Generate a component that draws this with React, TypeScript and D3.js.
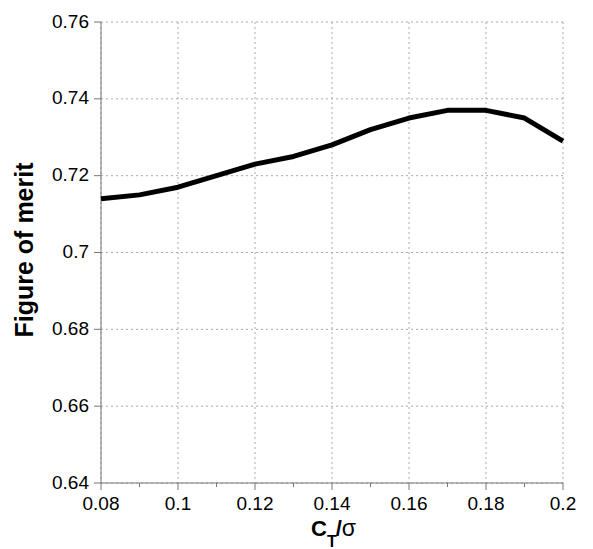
import React from "react";
import * as d3 from "d3";

const xValues = [0.08, 0.09, 0.1, 0.11, 0.12, 0.13, 0.14, 0.15, 0.16, 0.17, 0.18, 0.19, 0.2];
const yValues = [0.714, 0.715, 0.717, 0.72, 0.723, 0.725, 0.728, 0.732, 0.735, 0.737, 0.737, 0.735, 0.729];
const xTicks = [0.08, 0.1, 0.12, 0.14, 0.16, 0.18, 0.2];
const xMinorTicks = [0.09, 0.11, 0.13, 0.15, 0.17, 0.19];
const yTicks = [0.64, 0.66, 0.68, 0.7, 0.72, 0.74, 0.76];
const xTickLabels = ["0.08", "0.1", "0.12", "0.14", "0.16", "0.18", "0.2"];
const yTickLabels = ["0.64", "0.66", "0.68", "0.7", "0.72", "0.74", "0.76"];

export default function App() {
  const W = 593, H = 549;
  const left = 101, right = 563, top = 22, bottom = 483;
  const x = d3.scaleLinear().domain([0.08, 0.2]).range([left, right]);
  const y = d3.scaleLinear().domain([0.64, 0.76]).range([bottom, top]);
  const line = d3.line<number>().x((_, i) => x(xValues[i])).y((d) => y(d));
  const font = "'Liberation Sans', Arial, Helvetica, sans-serif";
  return (
    <svg width={W} height={H} style={{ position: "absolute", left: 0, top: 0 }} fontFamily={font}>
      <rect width={W} height={H} fill="#fff" />
      {xTicks.map((t) => (
        <line key={"gx" + t} x1={x(t)} x2={x(t)} y1={top} y2={bottom} stroke="#aaa" strokeWidth={1} strokeDasharray="2,3" />
      ))}
      {yTicks.map((t) => (
        <line key={"gy" + t} x1={left} x2={right} y1={y(t)} y2={y(t)} stroke="#aaa" strokeWidth={1} strokeDasharray="2,3" />
      ))}
      <line x1={left} x2={left} y1={top} y2={bottom} stroke="#777" strokeWidth={1} />
      <line x1={left} x2={right} y1={bottom} y2={bottom} stroke="#777" strokeWidth={1} />
      {xTicks.map((t) => (
        <line key={"tx" + t} x1={x(t)} x2={x(t)} y1={bottom} y2={bottom + 7} stroke="#777" />
      ))}
      {xMinorTicks.map((t) => (
        <line key={"mx" + t} x1={x(t)} x2={x(t)} y1={bottom} y2={bottom + 4} stroke="#777" />
      ))}
      {yTicks.map((t) => (
        <line key={"ty" + t} x1={left - 7} x2={left} y1={y(t)} y2={y(t)} stroke="#777" />
      ))}
      {xTicks.map((t, i) => (
        <text key={"lx" + t} x={x(t)} y={510} textAnchor="middle" fontSize={19} fill="#000">{xTickLabels[i]}</text>
      ))}
      {yTicks.map((t, i) => (
        <text key={"ly" + t} x={89} y={y(t) + 5.5} textAnchor="end" fontSize={19} fill="#000">{yTickLabels[i]}</text>
      ))}
      <path d={line(yValues) || ""} fill="none" stroke="#000" strokeWidth={5} strokeLinejoin="round" />
      <text transform="translate(33,250) rotate(-90)" textAnchor="middle" fontSize={25} fontWeight="bold" fill="#000">Figure of merit</text>
      <text x={311} y={536} fontSize={22} fontWeight="bold" fill="#000">
        C<tspan fontSize={16} dy={11}>T</tspan><tspan dy={-11} dx={-1}>/</tspan><tspan fontWeight="normal" fontSize={23}>σ</tspan>
      </text>
    </svg>
  );
}
